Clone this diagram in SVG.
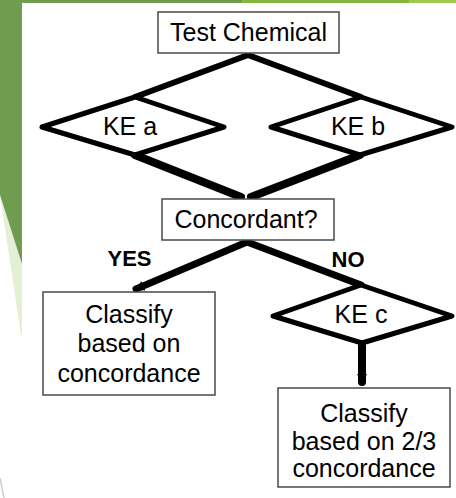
<svg xmlns="http://www.w3.org/2000/svg" width="456" height="498" viewBox="0 0 456 498">
<style>
  text { font-family: "Liberation Sans", Arial, sans-serif; font-size: 25px; fill: #000; text-anchor: middle; }
  .lbl { font-weight: bold; font-size: 22px; }
  .box { fill: #fff; stroke: #4a4a4a; stroke-width: 1.5; }
  .dia { fill: #fff; stroke: #000; stroke-width: 5; stroke-linejoin: round; }
  .con { stroke: #000; fill: none; stroke-linecap: round; }
</style>
<defs>
  <marker id="arr" markerUnits="userSpaceOnUse" markerWidth="12" markerHeight="10" refX="8" refY="5" orient="auto">
    <path d="M0,0 L9,5 L0,10 Z" fill="#000"/>
  </marker>
</defs>
<g id="background">
  <rect x="0" y="0" width="456" height="498" fill="#fff"/>
  <rect x="0" y="0" width="242" height="3" fill="#6f9c4f"/>
  <rect x="242" y="0" width="167" height="3" fill="#84b73b"/>
  <rect x="409" y="0" width="47" height="3" fill="#9ecb4e"/>
  <polygon points="0,195 22,264 22,335 21,335" fill="#e4efd6"/>
  <polygon points="0,0 22,0 22,264 0,195" fill="#6f9c4f"/>
  <line x1="0" y1="478" x2="4" y2="498" stroke="#cfcfcf" stroke-width="1.5"/>
</g>
<g id="connectors">
  <line class="con" x1="248" y1="55" x2="135" y2="97" stroke-width="6"/>
  <line class="con" x1="248" y1="55" x2="361" y2="97" stroke-width="6"/>
  <line class="con" x1="135" y1="155" x2="241" y2="197" stroke-width="8"/>
  <line class="con" x1="360" y1="155" x2="251" y2="197" stroke-width="8"/>
  <line class="con" x1="247" y1="242" x2="136" y2="289" stroke-width="7" marker-end="url(#arr)"/>
  <line class="con" x1="247" y1="242" x2="361" y2="285" stroke-width="7"/>
  <line class="con" x1="362" y1="343" x2="362" y2="382" stroke-width="8" marker-end="url(#arr)"/>
</g>
<g id="test-chemical">
  <rect class="box" x="158" y="12" width="181" height="41"/>
  <text x="248.5" y="41">Test Chemical</text>
</g>
<g id="ke-a">
  <polygon class="dia" points="42,127 135,97 224,127 135,155"/>
  <text x="130" y="135">KE a</text>
</g>
<g id="ke-b">
  <polygon class="dia" points="271,127 361,97 452,127 360,155"/>
  <text x="358" y="135">KE b</text>
</g>
<g id="concordant">
  <rect class="box" x="162" y="199" width="172" height="41"/>
  <text x="246" y="228">Concordant?</text>
</g>
<g id="yes-label">
  <text class="lbl" x="129.5" y="266">YES</text>
</g>
<g id="no-label">
  <text class="lbl" x="348" y="267">NO</text>
</g>
<g id="ke-c">
  <polygon class="dia" points="273,316 361,285 452,316 362,343"/>
  <text x="361" y="323">KE c</text>
</g>
<g id="classify-concordance">
  <rect class="box" x="43" y="292" width="172" height="103"/>
  <text x="129" y="323">Classify</text>
  <text x="129" y="352">based on</text>
  <text x="129" y="382">concordance</text>
</g>
<g id="classify-two-thirds">
  <rect class="box" x="278" y="388" width="172" height="99"/>
  <text x="364" y="422">Classify</text>
  <text x="364" y="450">based on 2/3</text>
  <text x="364" y="477">concordance</text>
</g>
</svg>
